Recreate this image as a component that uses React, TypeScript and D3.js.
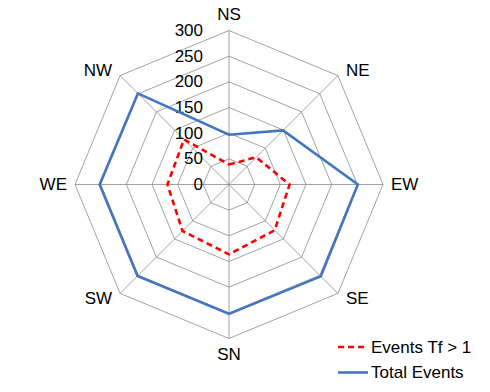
import React from 'react';
import * as d3 from 'd3';

const directions = ['NS', 'NE', 'EW', 'SE', 'SN', 'SW', 'WE', 'NW'];
const totalEvents = [97, 149, 251, 253, 252, 252, 252, 251];
const eventsTf = [39, 75, 118, 126, 136, 128, 120, 124];
const ticks = [0, 50, 100, 150, 200, 250, 300];

const width = 490;
const height = 392;
const cx = 229;
const cy = 184.5;
const font = 'Liberation Sans, Arial, sans-serif';

const App = () => {
  const r = d3.scaleLinear().domain([0, 300]).range([0, 154]);
  const angle = d3.scaleLinear().domain([0, directions.length]).range([0, 2 * Math.PI]);

  const pt = (i: number, v: number): [number, number] => {
    const a = angle(i);
    return [cx + r(v) * Math.sin(a), cy - r(v) * Math.cos(a)];
  };

  const ring = (v: number) =>
    d3.line()(directions.map((_, i) => pt(i, v))) + 'Z';

  const seriesPath = (vals: number[]) =>
    d3.line()(vals.map((v, i) => pt(i, v))) + 'Z';

  // label offsets around the outer ring
  const labelPos = (i: number) => {
    const [x, y] = pt(i, 300);
    const a = angle(i);
    const sx = Math.sin(a);
    const sy = -Math.cos(a);
    const anchor = Math.abs(sx) < 0.01 ? 'middle' : sx > 0 ? 'start' : 'end';
    const dx = Math.abs(sx) < 0.01 ? 0 : Math.sign(sx) * 8;
    const dy = Math.abs(sy) < 0.01 ? 0 : Math.abs(sx) < 0.01 ? Math.sign(sy) * 16 : Math.sign(sy) * 5;
    return { x: x + dx, y: y + dy, anchor };
  };

  return (
    <svg width={width} height={height} style={{ position: 'absolute', left: 0, top: 0, background: '#fff' }}>
      <g stroke="#8a8a8a" strokeWidth={0.8} fill="none">
        {ticks.slice(1).map(t => (
          <path key={t} d={ring(t)} />
        ))}
        {directions.map((d, i) => {
          const [x, y] = pt(i, 300);
          return <line key={d} x1={cx} y1={cy} x2={x} y2={y} />;
        })}
      </g>
      <g fontFamily={font} fontSize={17} fill="#000">
        {ticks.map(t => (
          <text key={t} x={cx - 26} y={cy - r(t)} textAnchor="end" dominantBaseline="central">
            {t}
          </text>
        ))}
        {directions.map((d, i) => {
          const p = labelPos(i);
          return (
            <text key={d} x={p.x} y={p.y} textAnchor={p.anchor} dominantBaseline="central">
              {d}
            </text>
          );
        })}
      </g>
      <path d={seriesPath(totalEvents)} fill="none" stroke="#4277c0" strokeWidth={2.6} strokeLinejoin="miter" />
      <path d={seriesPath(eventsTf)} fill="none" stroke="#ff0000" strokeWidth={2.6} strokeDasharray="6,4" />
      <g fontFamily={font} fontSize={17} fill="#000">
        <line x1={338} x2={364} y1={347} y2={347} stroke="#ff0000" strokeWidth={2.6} strokeDasharray="6,4" />
        <text x={371} y={347} dominantBaseline="central">Events Tf &gt; 1</text>
        <line x1={338} x2={368} y1={372.5} y2={372.5} stroke="#4277c0" strokeWidth={2.6} />
        <text x={371} y={372.5} dominantBaseline="central">Total Events</text>
      </g>
    </svg>
  );
};

export default App;
